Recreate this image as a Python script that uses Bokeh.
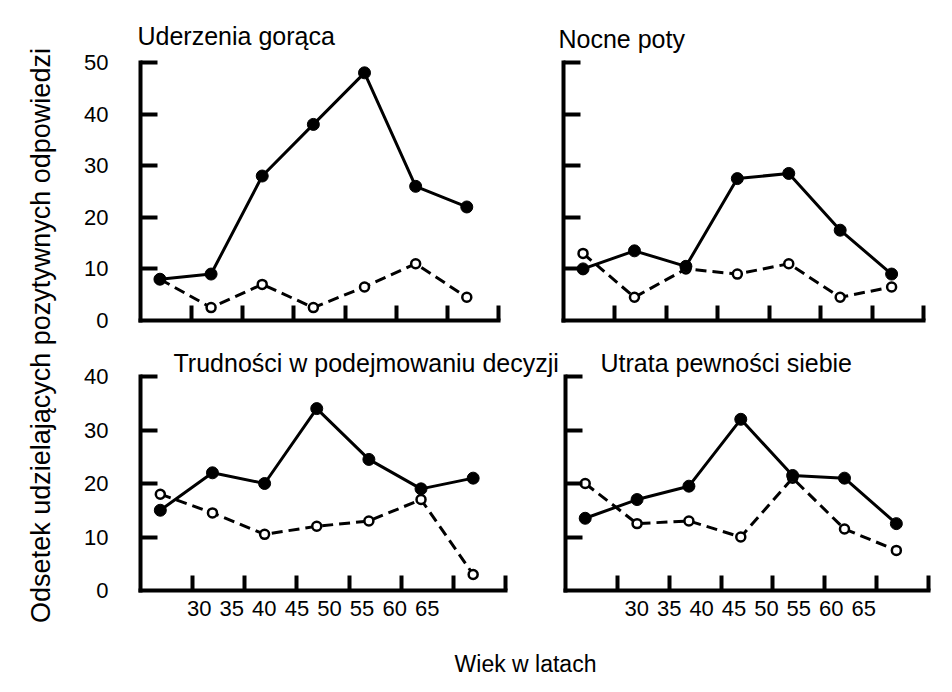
from math import pi

from bokeh.embed import file_html
from bokeh.layouts import column, row
from bokeh.models import FixedTicker, Label, Range1d
from bokeh.plotting import figure
from bokeh.resources import INLINE

FONT = "Liberation Sans"

age_labels = ["30", "35", "40", "45", "50", "55", "60", "65"]

hot_title = "Uderzenia gorąca"
hot_filled = [8, 9, 28, 38, 48, 26, 22]
hot_open = [8, 2.5, 7, 2.5, 6.5, 11, 4.5]

sweat_title = "Nocne poty"
sweat_filled = [10, 13.5, 10.5, 27.5, 28.5, 17.5, 9]
sweat_open = [13, 4.5, 10, 9, 11, 4.5, 6.5]

decision_title = "Trudności w podejmowaniu decyzji"
decision_filled = [15, 22, 20, 34, 24.5, 19, 21]
decision_open = [18, 14.5, 10.5, 12, 13, 17, 3]

confidence_title = "Utrata pewności siebie"
confidence_filled = [13.5, 17, 19.5, 32, 21.5, 21, 12.5]
confidence_open = [20, 12.5, 13, 10, 21, 11.5, 7.5]

y_label = "Odsetek udzielających pozytywnych odpowiedzi"
x_label = "Wiek w latach"


def panel(title, filled, opened, y_max, width, height, borders,
          title_offset, title_standoff, y_labels=True, label_start=None):
    left, right, top, bottom = borders
    p = figure(
        width=width,
        height=height,
        x_range=Range1d(0, 7),
        y_range=Range1d(0, y_max),
        output_backend="svg",
        toolbar_location=None,
        min_border_left=left,
        min_border_right=right,
        min_border_top=top,
        min_border_bottom=bottom,
    )
    p.title.text = title
    p.title.align = "left"
    p.title.offset = title_offset
    p.title.standoff = title_standoff
    p.title.text_font = FONT
    p.title.text_font_size = "25px"
    p.title.text_font_style = "normal"
    p.title.text_color = "black"

    p.xgrid.grid_line_color = None
    p.ygrid.grid_line_color = None
    p.outline_line_color = None

    # tick marks are the minor ticks, labels sit on major ticks without marks
    if label_start is None:
        label_pos = []
    else:
        label_pos = [label_start + i * 0.625 for i in range(len(age_labels))]
    ax = p.xaxis[0]
    ax.ticker = FixedTicker(ticks=label_pos, minor_ticks=list(range(1, 8)))
    ax.major_label_overrides = dict(zip(label_pos, age_labels))
    ax.major_label_standoff = 10
    ax.minor_tick_in = 15

    y_ticks = list(range(10, y_max + 1, 10))
    ay = p.yaxis[0]
    ay.ticker = FixedTicker(ticks=[0] + y_ticks if y_labels else [], minor_ticks=y_ticks)
    ay.major_label_standoff = 32 if y_labels else 0
    ay.major_label_text_align = "center"
    ay.minor_tick_in = 17

    for axis in (ax, ay):
        axis.axis_line_width = 4
        axis.axis_line_color = "black"
        axis.axis_line_cap = "square"
        axis.major_tick_line_color = None
        axis.major_tick_out = 0
        axis.minor_tick_out = 0
        axis.minor_tick_line_color = "black"
        axis.minor_tick_line_width = 4
        axis.major_label_text_font = FONT
        axis.major_label_text_font_size = "22px"
        axis.major_label_text_color = "black"

    xs = [i + 0.38 for i in range(len(filled))]
    p.line(xs, opened, line_color="black", line_width=3, line_dash="11 6")
    p.line(xs, filled, line_color="black", line_width=3)
    p.scatter(xs, opened, size=9, fill_color="white", line_color="black", line_width=2.5)
    p.scatter(xs, filled, size=12, fill_color="black", line_color="black")
    return p


def text_box(text, width, height, x, y, size, angle=0):
    p = figure(
        width=width,
        height=height,
        x_range=Range1d(0, width),
        y_range=Range1d(0, height),
        x_axis_location=None,
        y_axis_location=None,
        output_backend="svg",
        toolbar_location=None,
        min_border=0,
    )
    p.grid.grid_line_color = None
    p.outline_line_color = None
    p.add_layout(Label(
        x=x, y=y, text=text, angle=angle,
        text_align="center", text_baseline="middle",
        text_font=FONT, text_font_size=size, text_color="black",
    ))
    return p


tl = panel(hot_title, hot_filled, hot_open, 50, 448, 340, (60, 30, 62, 20), -3, 25)
tr = panel(sweat_title, sweat_filled, sweat_open, 50, 416, 340, (35, 21, 62, 20), -5, 20,
           y_labels=False)
bl = panel(decision_title, decision_filled, decision_open, 40, 481, 300, (60, 56, 36, 50), 33, 0,
           label_start=1.125)
br = panel(confidence_title, confidence_filled, confidence_open, 40, 383, 300, (4, 16, 36, 50), 35, 0,
           y_labels=False, label_start=1.375)

ylab = text_box(y_label, 80, 684, 40, 349, "27px", angle=pi / 2)
xlab = text_box(x_label, 864, 44, 445, 21, "23px")

p = row(ylab, column(row(tl, tr), row(bl, br), xlab))

open("out.html", "w").write(file_html(p, INLINE))
